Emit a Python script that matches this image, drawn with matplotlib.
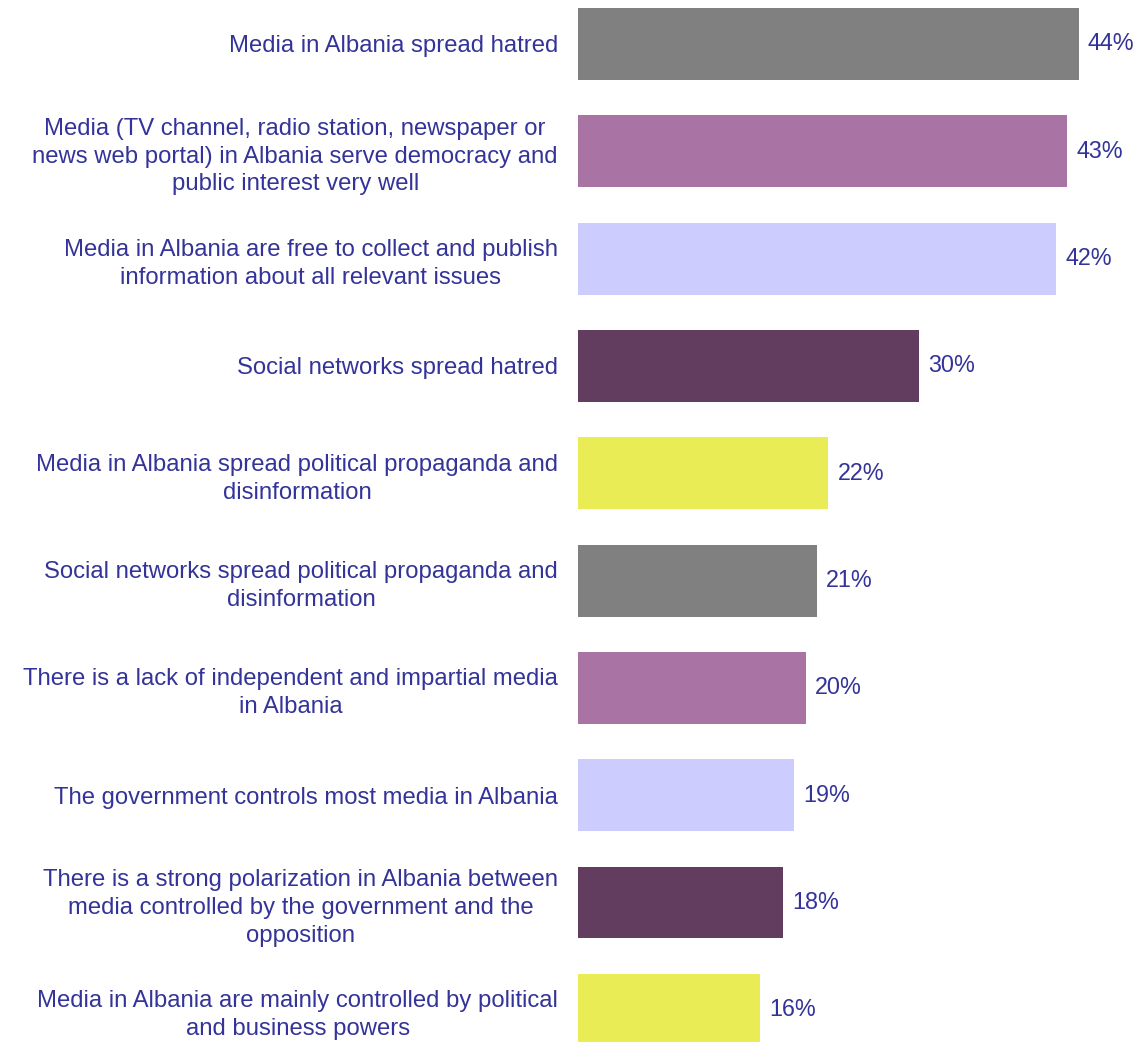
import matplotlib.pyplot as plt

plt.rcParams['font.family'] = ['Liberation Sans', 'DejaVu Sans']

statements = [
    "Media in Albania spread hatred",
    "Media (TV channel, radio station, newspaper or\nnews web portal) in Albania serve democracy and\npublic interest very well",
    "Media in Albania are free to collect and publish\ninformation about all relevant issues",
    "Social networks spread hatred",
    "Media in Albania spread political propaganda and\ndisinformation",
    "Social networks spread political propaganda and\ndisinformation",
    "There is a lack of independent and impartial media\nin Albania",
    "The government controls most media in Albania",
    "There is a strong polarization in Albania between\nmedia controlled by the government and the\nopposition",
    "Media in Albania are mainly controlled by political\nand business powers",
]
shares = [44, 43, 42, 30, 22, 21, 20, 19, 18, 16]
palette = ["#808080", "#A974A4", "#CCCCFF", "#633D5F", "#EAEC55"]

text_color = "#333399"

fig = plt.figure(figsize=(11.38, 10.42), dpi=100)
ax = fig.add_axes([578 / 1138, 0, 1 - 578 / 1138, 1])

ypos = list(range(len(shares)))
colors = [palette[i % len(palette)] for i in ypos]
ax.barh(ypos, shares, height=0.67, color=colors)

for y, v in zip(ypos, shares):
    ax.text(v + 0.8, y, f"{v}%", va="center", ha="left",
            fontsize=16.8, color=text_color)

ax.set_yticks(ypos)
ax.set_yticklabels(statements, fontsize=17.2, color=text_color,
                   ha="right", multialignment="center")
ax.tick_params(axis="y", length=0, pad=14.4)
for lbl in ax.get_yticklabels():
    lbl.set_linespacing(1.34)
ax.set_xticks([])
ax.set_xlim(0, 49.2)
ax.set_ylim(9.30, -0.41)
for s in ax.spines.values():
    s.set_visible(False)

fig.savefig("out.png", dpi=100)
